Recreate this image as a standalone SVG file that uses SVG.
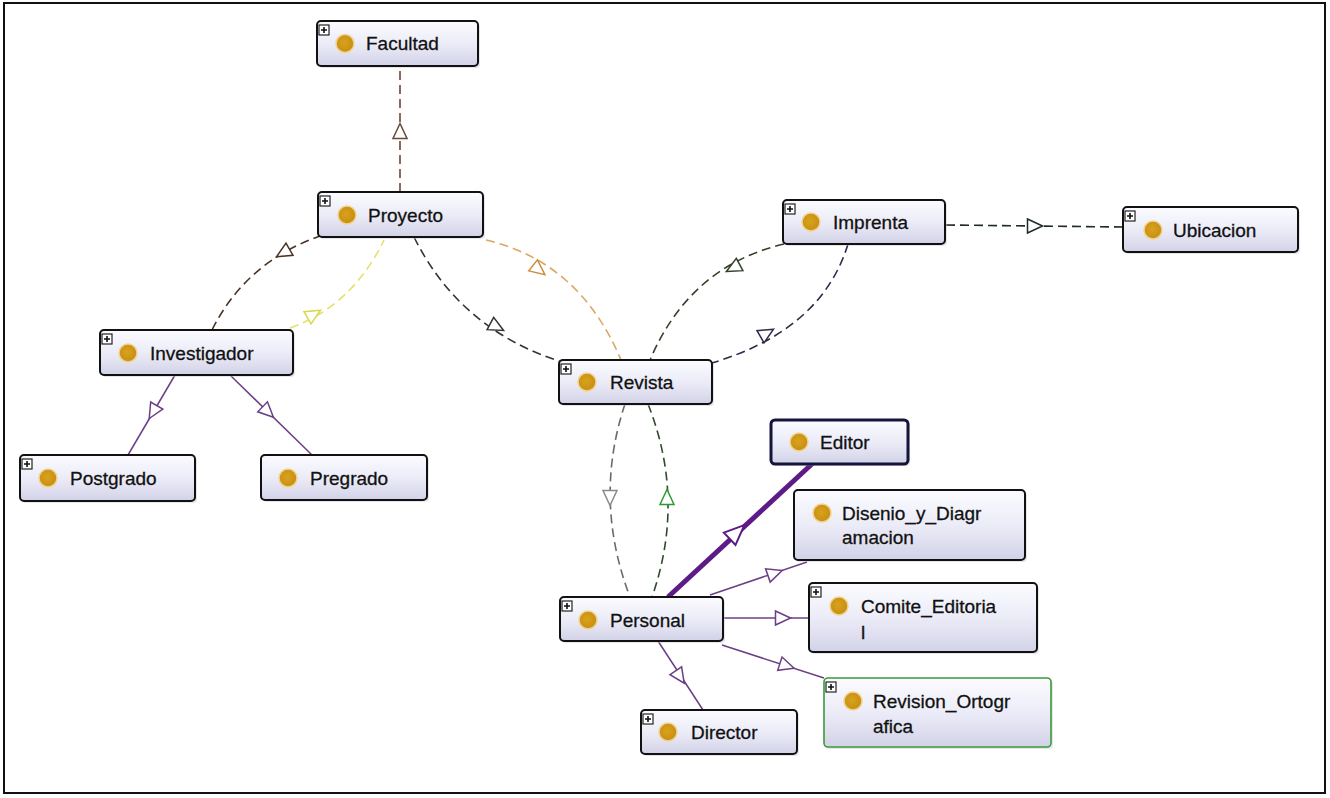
<svg xmlns="http://www.w3.org/2000/svg" xmlns:xlink="http://www.w3.org/1999/xlink" width="1330" height="798" viewBox="0 0 1330 798">
<style>
.box{fill:url(#nodeFill);stroke:#111;stroke-width:2}
.shadow{fill:#c8c8d0;opacity:0.45}
.lbl{font-family:"Liberation Sans",Arial,sans-serif;font-size:19px;fill:#111;stroke:#111;stroke-width:0.3}
.dot{fill:url(#dotFill);stroke:#f2d394;stroke-width:1.5}
.pbox{fill:#fff;stroke:#222;stroke-width:1.2}
.pl{stroke:#111;stroke-width:1.6}
.dash{fill:none;stroke-width:1.6;stroke-dasharray:9 5}
.isa{fill:none;stroke:#6a3f86;stroke-width:1.5}
.tri{fill:#fff;stroke-width:1.5}
</style>
<defs>
<linearGradient id="nodeFill" x1="0" y1="0" x2="0" y2="1">
<stop offset="0" stop-color="#fbfbff"/>
<stop offset="0.5" stop-color="#ececf8"/>
<stop offset="1" stop-color="#d2d2e8"/>
</linearGradient>
<radialGradient id="dotFill" cx="0.45" cy="0.45" r="0.6">
<stop offset="0" stop-color="#d9a21c"/>
<stop offset="1" stop-color="#c58d12"/>
</radialGradient>
<path id="tri" d="M7.5,0 L-7.5,-7 L-7.5,7 Z"/>
<path id="triBig" d="M10,0 L-10,-8.5 L-10,8.5 Z"/>
</defs>
<rect x="0" y="0" width="1330" height="798" fill="#fff"/>
<rect x="4" y="3" width="1321" height="790" fill="none" stroke="#111" stroke-width="2"/>

<g id="connectors">
<path class="dash" stroke="#6b4636" d="M400,192 L400,66"/>
<use xlink:href="#tri" class="tri" stroke="#6b4636" transform="translate(400,131) rotate(-90)"/>
<path class="dash" stroke="#4a3326" d="M212,330 Q246,262 320,236"/>
<use xlink:href="#tri" class="tri" stroke="#4a3326" transform="translate(283,253) rotate(150)"/>
<path class="dash" stroke="#e3e36a" d="M290,328 Q352,306 384,240"/>
<use xlink:href="#tri" class="tri" stroke="#d8d84a" transform="translate(314,314) rotate(-30)"/>
<path class="dash" stroke="#dba864" d="M486,240 Q580,262 621,360"/>
<use xlink:href="#tri" class="tri" stroke="#c99040" transform="translate(539,270) rotate(38)"/>
<path class="dash" stroke="#333" d="M414,237 Q460,330 562,362"/>
<use xlink:href="#tri" class="tri" stroke="#333" transform="translate(497,327) rotate(28)"/>
<path class="dash" stroke="#34402a" d="M784,244 Q690,266 650,360"/>
<use xlink:href="#tri" class="tri" stroke="#34402a" transform="translate(733,268) rotate(152)"/>
<path class="dash" stroke="#2c2a48" d="M848,244 Q822,330 712,363"/>
<use xlink:href="#tri" class="tri" stroke="#2c2a48" transform="translate(767,333) rotate(-30)"/>
<path class="dash" stroke="#1f2a2a" d="M946,225 L1123,227"/>
<use xlink:href="#tri" class="tri" stroke="#1f2a2a" transform="translate(1035,226) rotate(0)"/>
<path class="dash" stroke="#6a6a6a" d="M625,404 Q593,500 630,597"/>
<use xlink:href="#tri" class="tri" stroke="#8a8a8a" transform="translate(610,498) rotate(90)"/>
<path class="dash" stroke="#2f4a2f" d="M648,404 Q686,500 652,597"/>
<use xlink:href="#tri" class="tri" stroke="#2e9a2e" transform="translate(667,497) rotate(-90)"/>

<path class="isa" d="M175,375 L128,455"/>
<use xlink:href="#tri" class="tri" stroke="#6a3f86" transform="translate(153,412) rotate(120)"/>
<path class="isa" d="M230,375 L312,455"/>
<use xlink:href="#tri" class="tri" stroke="#6a3f86" transform="translate(268,412) rotate(44)"/>
<path fill="none" stroke="#5e1a86" stroke-width="5" d="M668,597 L813,463"/>
<use xlink:href="#triBig" fill="#fff" stroke="#5e1a86" stroke-width="2" transform="translate(737,532) rotate(-43)"/>
<path class="isa" d="M710,595 L807,562"/>
<use xlink:href="#tri" class="tri" stroke="#6a3f86" transform="translate(775,573) rotate(-19)"/>
<path class="isa" d="M723,618 L809,618"/>
<use xlink:href="#tri" class="tri" stroke="#6a3f86" transform="translate(783,618) rotate(0)"/>
<path class="isa" d="M722,645 L824,678"/>
<use xlink:href="#tri" class="tri" stroke="#6a3f86" transform="translate(787,666) rotate(18)"/>
<path class="isa" d="M658,641 L703,710"/>
<use xlink:href="#tri" class="tri" stroke="#6a3f86" transform="translate(680,677) rotate(56)"/>
</g>

<g id="node-facultad">
<rect class="shadow" x="319" y="23" width="161" height="45" rx="4"/>
<rect class="box" x="317" y="21" width="161" height="45" rx="4"/>
<rect class="pbox" x="319" y="25" width="10" height="10"/><path class="pl" d="M321,30 H327 M324,27 V33"/>
<circle class="dot" cx="345" cy="43.5" r="9"/>
<text class="lbl" x="366" y="50">Facultad</text>
</g>

<g id="node-proyecto">
<rect class="shadow" x="320" y="194" width="165" height="45" rx="4"/>
<rect class="box" x="318" y="192" width="165" height="45" rx="4"/>
<rect class="pbox" x="320" y="196" width="10" height="10"/><path class="pl" d="M322,201 H328 M325,198 V204"/>
<circle class="dot" cx="347" cy="215" r="9"/>
<text class="lbl" x="368" y="221.5">Proyecto</text>
</g>

<g id="node-investigador">
<rect class="shadow" x="102" y="332" width="193" height="45" rx="4"/>
<rect class="box" x="100" y="330" width="193" height="45" rx="4"/>
<rect class="pbox" x="102" y="334" width="10" height="10"/><path class="pl" d="M104,339 H110 M107,336 V342"/>
<circle class="dot" cx="128" cy="353" r="9"/>
<text class="lbl" x="150" y="359.5">Investigador</text>
</g>

<g id="node-postgrado">
<rect class="shadow" x="22" y="457" width="175" height="46" rx="4"/>
<rect class="box" x="20" y="455" width="175" height="46" rx="4"/>
<rect class="pbox" x="22" y="459" width="10" height="10"/><path class="pl" d="M24,464 H30 M27,461 V467"/>
<circle class="dot" cx="48" cy="478" r="9"/>
<text class="lbl" x="70" y="484.5">Postgrado</text>
</g>

<g id="node-pregrado">
<rect class="shadow" x="263" y="457" width="166" height="45" rx="4"/>
<rect class="box" x="261" y="455" width="166" height="45" rx="4"/>
<circle class="dot" cx="288" cy="478" r="9"/>
<text class="lbl" x="310" y="484.5">Pregrado</text>
</g>

<g id="node-revista">
<rect class="shadow" x="561" y="362" width="153" height="44" rx="4"/>
<rect class="box" x="559" y="360" width="153" height="44" rx="4"/>
<rect class="pbox" x="561" y="364" width="10" height="10"/><path class="pl" d="M563,369 H569 M566,366 V372"/>
<circle class="dot" cx="587" cy="382" r="9"/>
<text class="lbl" x="610" y="388.5">Revista</text>
</g>

<g id="node-imprenta">
<rect class="shadow" x="785" y="202" width="162" height="44" rx="4"/>
<rect class="box" x="783" y="200" width="162" height="44" rx="4"/>
<rect class="pbox" x="785" y="204" width="10" height="10"/><path class="pl" d="M787,209 H793 M790,206 V212"/>
<circle class="dot" cx="811" cy="222" r="9"/>
<text class="lbl" x="833" y="228.5">Imprenta</text>
</g>

<g id="node-ubicacion">
<rect class="shadow" x="1125" y="209" width="175" height="45" rx="4"/>
<rect class="box" x="1123" y="207" width="175" height="45" rx="4"/>
<rect class="pbox" x="1125" y="211" width="10" height="10"/><path class="pl" d="M1127,216 H1133 M1130,213 V219"/>
<circle class="dot" cx="1153" cy="230" r="9"/>
<text class="lbl" x="1173" y="236.5">Ubicacion</text>
</g>

<g id="node-editor">
<rect class="shadow" x="773" y="422" width="137" height="44" rx="4"/>
<rect x="771" y="420" width="137" height="44" rx="4" fill="url(#nodeFill)" stroke="#14143c" stroke-width="3"/>
<circle class="dot" cx="799" cy="442" r="9"/>
<text class="lbl" x="820" y="448.5">Editor</text>
</g>

<g id="node-disenio">
<rect class="shadow" x="796" y="492" width="231" height="70" rx="4"/>
<rect class="box" x="794" y="490" width="231" height="70" rx="4"/>
<circle class="dot" cx="822" cy="513" r="9"/>
<text class="lbl" x="842" y="519.5">Disenio_y_Diagr</text>
<text class="lbl" x="842" y="544">amacion</text>
</g>

<g id="node-comite">
<rect class="shadow" x="811" y="585" width="228" height="69" rx="4"/>
<rect class="box" x="809" y="583" width="228" height="69" rx="4"/>
<rect class="pbox" x="811" y="587" width="10" height="10"/><path class="pl" d="M813,592 H819 M816,589 V595"/>
<circle class="dot" cx="839" cy="606" r="9"/>
<text class="lbl" x="861" y="612.5">Comite_Editoria</text>
<text class="lbl" x="861" y="639">l</text>
</g>

<g id="node-personal">
<rect class="shadow" x="562" y="599" width="163" height="44" rx="4"/>
<rect class="box" x="560" y="597" width="163" height="44" rx="4"/>
<rect class="pbox" x="562" y="601" width="10" height="10"/><path class="pl" d="M564,606 H570 M567,603 V609"/>
<circle class="dot" cx="588" cy="620" r="9"/>
<text class="lbl" x="610" y="626.5">Personal</text>
</g>

<g id="node-revision">
<rect class="shadow" x="826" y="680" width="227" height="69" rx="4"/>
<rect x="824" y="678" width="227" height="69" rx="4" fill="url(#nodeFill)" stroke="#3a9a3a" stroke-width="1.6"/>
<rect class="pbox" x="826" y="682" width="10" height="10"/><path class="pl" d="M828,687 H834 M831,684 V690"/>
<circle class="dot" cx="853" cy="701" r="9"/>
<text class="lbl" x="873" y="708">Revision_Ortogr</text>
<text class="lbl" x="873" y="733">afica</text>
</g>

<g id="node-director">
<rect class="shadow" x="643" y="712" width="156" height="44" rx="4"/>
<rect class="box" x="641" y="710" width="156" height="44" rx="4"/>
<rect class="pbox" x="643" y="714" width="10" height="10"/><path class="pl" d="M645,719 H651 M648,716 V722"/>
<circle class="dot" cx="668" cy="732" r="9"/>
<text class="lbl" x="691" y="738.5">Director</text>
</g>
</svg>
